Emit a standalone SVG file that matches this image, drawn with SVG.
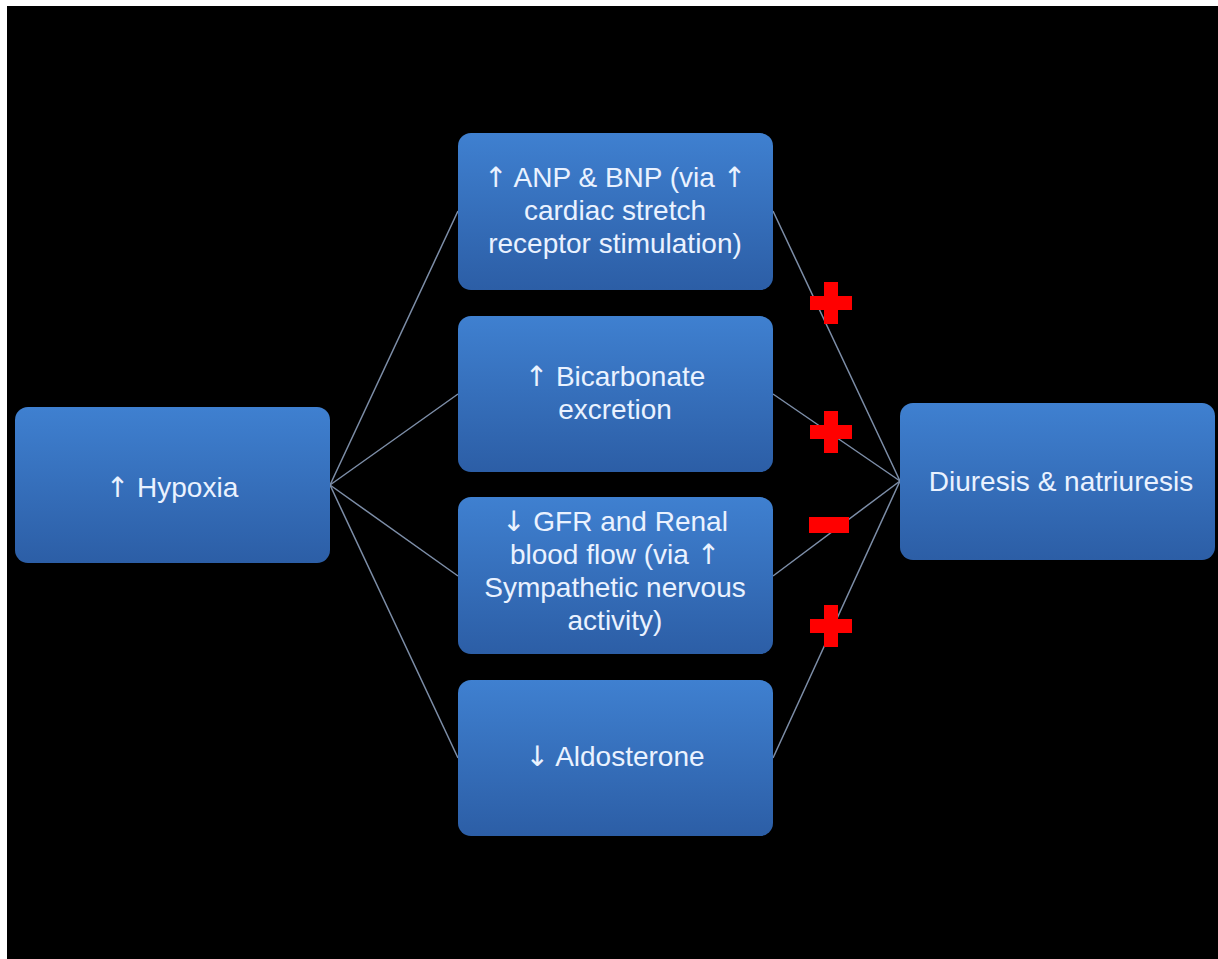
<svg xmlns="http://www.w3.org/2000/svg" width="1218" height="959" viewBox="0 0 1218 959">
<defs>
<linearGradient id="g" x1="0" y1="0" x2="0" y2="1">
<stop offset="0" stop-color="#3f80d0"/>
<stop offset="1" stop-color="#2c5ea6"/>
</linearGradient>
<style>
.box{fill:url(#g);}
.t{font-family:"Liberation Sans",Arial,sans-serif;font-size:28px;fill:#eaf2ff;text-anchor:middle;}
.a{font-family:"DejaVu Sans",sans-serif;}
.c{stroke:#7d8ea8;stroke-width:1.5;fill:none;}
.sign{fill:#ff0000;}
</style>
</defs>
<rect width="1218" height="959" fill="#ffffff"/>
<rect x="7" y="6" width="1211" height="953" fill="#000000"/>
<g id="connectors">
<line class="c" x1="330" y1="485" x2="458" y2="211"/>
<line class="c" x1="330" y1="485" x2="458" y2="394"/>
<line class="c" x1="330" y1="485" x2="458" y2="576"/>
<line class="c" x1="330" y1="485" x2="458" y2="758"/>
<line class="c" x1="773" y1="211" x2="900" y2="481"/>
<line class="c" x1="773" y1="394" x2="900" y2="481"/>
<line class="c" x1="773" y1="576" x2="900" y2="481"/>
<line class="c" x1="773" y1="758" x2="900" y2="481"/>
</g>
<g id="hypoxia">
<rect class="box" x="15" y="407" width="315" height="156" rx="13"/>
<text class="t" x="172" y="497"><tspan class="a">↑</tspan> Hypoxia</text>
</g>
<g id="anp">
<rect class="box" x="458" y="133" width="315" height="157" rx="13"/>
<text class="t" x="615" y="187"><tspan class="a">↑</tspan> ANP &amp; BNP (via <tspan class="a">↑</tspan></text>
<text class="t" x="615" y="220">cardiac stretch</text>
<text class="t" x="615" y="253">receptor stimulation)</text>
</g>
<g id="bicarbonate">
<rect class="box" x="458" y="316" width="315" height="156" rx="13"/>
<text class="t" x="615" y="386"><tspan class="a">↑</tspan> Bicarbonate</text>
<text class="t" x="615" y="419">excretion</text>
</g>
<g id="gfr">
<rect class="box" x="458" y="497" width="315" height="157" rx="13"/>
<text class="t" x="615" y="531"><tspan class="a">↓</tspan> GFR and Renal</text>
<text class="t" x="615" y="564">blood flow (via <tspan class="a">↑</tspan></text>
<text class="t" x="615" y="597">Sympathetic nervous</text>
<text class="t" x="615" y="630">activity)</text>
</g>
<g id="aldosterone">
<rect class="box" x="458" y="680" width="315" height="156" rx="13"/>
<text class="t" x="615" y="766"><tspan class="a">↓</tspan> Aldosterone</text>
</g>
<g id="diuresis">
<rect class="box" x="900" y="403" width="315" height="157" rx="13"/>
<text class="t" x="1061" y="491">Diuresis &amp; natriuresis</text>
</g>
<g id="signs">
<path class="sign" d="M824 282h14v14h14v14h-14v14h-14v-14h-14v-14h14z"/>
<path class="sign" d="M824 411h14v14h14v14h-14v14h-14v-14h-14v-14h14z"/>
<rect class="sign" x="809" y="517" width="40" height="16"/>
<path class="sign" d="M824 605h14v14h14v14h-14v14h-14v-14h-14v-14h14z"/>
</g>
</svg>
